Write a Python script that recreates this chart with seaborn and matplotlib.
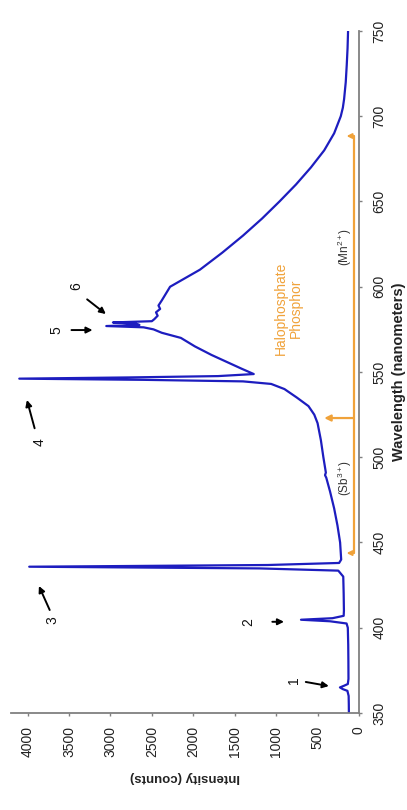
import matplotlib
matplotlib.use("Agg")
import matplotlib.pyplot as plt
import seaborn as sns
import pandas as pd

# Emission spectrum of a fluorescent lamp (Hg lines + halophosphate phosphor bands)
wavelength_nm = [350, 355, 360, 363, 364, 365, 366, 367, 370, 380, 390, 400,
                 402.5, 403.8, 404.7, 405.6, 407, 410, 420, 430, 433.5, 434.8,
                 435.8, 436.8, 438, 440, 450, 460, 470, 480, 488, 489.5, 491,
                 500, 510, 520, 525, 530, 535, 540, 543, 544.5, 545.4, 546.1,
                 546.8, 547.6, 548.8, 552, 556, 560, 565, 570, 573, 575, 576.2,
                 576.96, 577.6, 578.4, 579.07, 579.8, 581, 583, 585, 587, 589,
                 592, 596, 600, 605, 610, 620, 630, 640, 650, 660, 670, 680,
                 690, 700, 705, 710, 720, 730, 740, 750]
intensity_counts = [122, 123, 125, 140, 195, 230, 180, 135, 127, 128, 130, 135,
                    150, 350, 700, 320, 185, 182, 185, 190, 250, 1200,
                    3980, 1100, 240, 215, 228, 260, 300, 350, 395, 410, 400,
                    430, 460, 500, 540, 610, 750, 900, 1060, 1400, 2600, 4100,
                    2800, 1700, 1270, 1420, 1600, 1780, 1980, 2150, 2380, 2480, 2600,
                    3050, 2650, 2700, 2970, 2500, 2470, 2430, 2450, 2400, 2420,
                    2380, 2330, 2280, 2100, 1920, 1650, 1400, 1170, 960, 760, 580, 420,
                    300, 220, 195, 180, 160, 148, 138, 132]

intensity_ticks = [0, 500, 1000, 1500, 2000, 2500, 3000, 3500, 4000]
wavelength_ticks = [350, 400, 450, 500, 550, 600, 650, 700, 750]

# Numbered line markers: label position, arrow tail, arrow head (intensity, wavelength)
marker_labels = ["1", "2", "3", "4", "5", "6"]
marker_text = [(788, 369.4), (1333, 403.5), (3700, 404.5), (3855, 509), (3652, 574.6), (3410, 600.4)]
marker_tail = [(642, 368.2), (1046, 403.5), (3733, 410.4), (3915, 517), (3470, 574.6), (3281, 592.6)]
marker_head = [(364, 365.8), (905, 403.5), (3863, 424.5), (4008, 533.6), (3216, 574.6), (3055, 584)]

# Phosphor band bracket
band_start, band_split, band_end = 443.8, 523.0, 688.4
bracket_level = 64

sns.set_style("white")
plt.rcParams["font.family"] = ["Liberation Sans", "DejaVu Sans"]
plt.rcParams["mathtext.fontset"] = "custom"
plt.rcParams["mathtext.rm"] = "Liberation Sans"
plt.rcParams["mathtext.it"] = "Liberation Sans:italic"

df = pd.DataFrame({"wavelength": wavelength_nm, "intensity": intensity_counts})

fig = plt.figure(figsize=(4.07, 8.10), dpi=100)
ax = fig.add_axes([11 / 407, 1 - 713 / 810, 348 / 407, 682 / 810])

sns.lineplot(data=df, x="intensity", y="wavelength", sort=False, estimator=None,
             color="#1d1dbf", linewidth=1.6, ax=ax)

ax.set_xlim(4200, 0)
ax.set_ylim(350, 750)
ax.set_xticks(intensity_ticks)
ax.set_yticks(wavelength_ticks)
ax.yaxis.tick_right()
ax.yaxis.set_label_position("right")

for s in ["top", "left"]:
    ax.spines[s].set_visible(False)
for s in ["bottom", "right"]:
    ax.spines[s].set_color("#808080")
    ax.spines[s].set_linewidth(1.3)

ax.tick_params(axis="both", direction="out", length=2.5, width=1.0, color="#808080",
               labelsize=10, pad=7, labelcolor="#222222")
ax.tick_params(axis="x", bottom=True, labelrotation=90)
ax.tick_params(axis="y", right=True, left=False, labelrotation=90)
for lab in ax.get_yticklabels():
    lab.set_verticalalignment("center")

ax.set_xlabel("Intensity (counts)", rotation=180, fontsize=9.5, fontweight="bold",
              labelpad=10, color="#222222")
ax.set_ylabel("Wavelength (nanometers)", rotation=90, fontsize=10.5, fontweight="bold",
              labelpad=4, color="#222222")
ax.grid(False)

# numbered arrows
for lab, t, tail, head in zip(marker_labels, marker_text, marker_tail, marker_head):
    ax.annotate("", xy=head, xytext=tail,
                arrowprops=dict(arrowstyle="-|>", color="black", lw=1.4,
                                mutation_scale=9, shrinkA=0, shrinkB=0))
    ax.text(t[0], t[1], lab, rotation=90, ha="center", va="center",
            fontsize=10, color="#111111")

# phosphor band bracket
orange = "#f0a23a"
ax.plot([bracket_level, bracket_level], [band_start, band_end], color=orange, lw=1.6)
for w in (band_start, band_end):
    ax.annotate("", xy=(150, w), xytext=(bracket_level, w),
                arrowprops=dict(arrowstyle="-|>", color=orange, lw=1.4,
                                mutation_scale=7, shrinkA=0, shrinkB=0))
ax.annotate("", xy=(420, band_split), xytext=(bracket_level, band_split),
            arrowprops=dict(arrowstyle="-|>", color=orange, lw=1.6,
                            mutation_scale=9, shrinkA=0, shrinkB=0))

ax.text(172, 487.8, "(Sb$^{3+}$)", rotation=90, ha="center", va="center",
        fontsize=8.5, color="#333333")
ax.text(172, 623.5, "(Mn$^{2+}$)", rotation=90, ha="center", va="center",
        fontsize=8.5, color="#333333")
ax.text(848, 587.5, "Halophosphate\nPhosphor", rotation=90, ha="center", va="center",
        fontsize=10, color=orange, linespacing=1.1)

fig.savefig("out.png", dpi=100)
